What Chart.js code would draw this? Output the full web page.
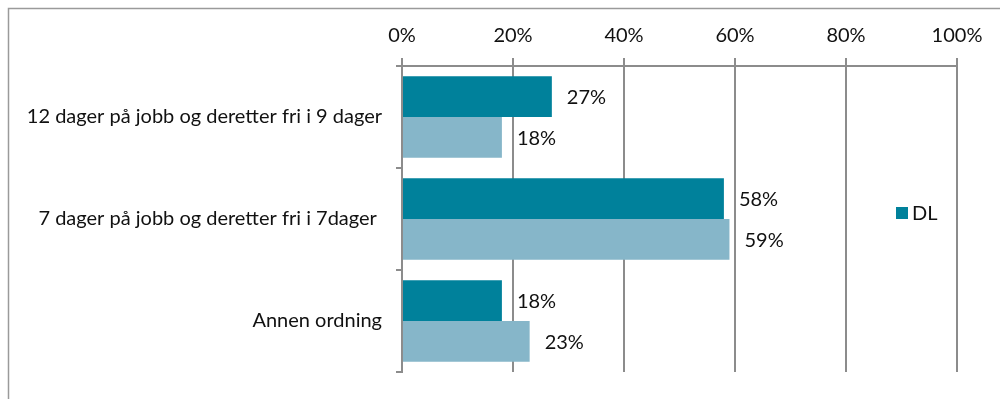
<!DOCTYPE html>
<html>
<head>
<meta charset="utf-8">
<script src="https://cdn.jsdelivr.net/npm/chart.js@4.4.1/dist/chart.umd.min.js"></script>
<style>
  html, body { margin: 0; padding: 0; background: #fff; }
  #wrap { width: 1000px; height: 399px; position: relative; }
</style>
</head>
<body>
<div id="wrap"><canvas id="chart"></canvas></div>
<script>
const categories = [
  '12 dager på jobb og deretter fri i 9 dager',
  '7 dager på jobb og deretter fri i 7dager ',
  'Annen ordning'
];
const dlValues = [27, 58, 18];
const otherValues = [18, 59, 23];
const xTicks = [0, 20, 40, 60, 80, 100];

const FONT = 'Lato';
const FONT_SIZE = 20;
const gridColor = '#8c8c8c';

// outer frame of the chart box
const framePlugin = {
  id: 'frame',
  beforeDraw(chart) {
    const ctx = chart.ctx;
    ctx.save();
    ctx.strokeStyle = '#9a9a9a';
    ctx.lineWidth = 1.5;
    ctx.strokeRect(8.5, 8.5, 1200, 600);
    ctx.restore();
  }
};

// percent labels to the right of each bar
const valueLabels = {
  id: 'valueLabels',
  afterDatasetsDraw(chart) {
    const ctx = chart.ctx;
    ctx.save();
    ctx.font = FONT_SIZE + 'px ' + FONT;
    ctx.fillStyle = '#111';
    ctx.textAlign = 'left';
    ctx.textBaseline = 'middle';
    chart.data.datasets.forEach((ds, i) => {
      chart.getDatasetMeta(i).data.forEach((bar, j) => {
        ctx.fillText(ds.data[j] + '%', bar.x + 15, bar.y + 1);
      });
    });
    ctx.restore();
  }
};

// legend sits inside the plot area on the right
const legendBox = {
  id: 'legendBox',
  afterDraw(chart) {
    const ctx = chart.ctx;
    const ds = chart.data.datasets[0];
    ctx.save();
    ctx.fillStyle = ds.backgroundColor;
    ctx.fillRect(896, 207, 12, 12);
    ctx.font = FONT_SIZE + 'px ' + FONT;
    ctx.fillStyle = '#111';
    ctx.textBaseline = 'middle';
    ctx.fillText(ds.label, 912, 214);
    ctx.restore();
  }
};

new Chart(document.getElementById('chart'), {
  type: 'bar',
  data: {
    labels: categories,
    datasets: [
      { label: 'DL', data: dlValues, backgroundColor: '#00819b',
        categoryPercentage: 0.8, barPercentage: 1.0 },
      { label: '', data: otherValues, backgroundColor: '#86b6c9',
        categoryPercentage: 0.8, barPercentage: 1.0 }
    ]
  },
  options: {
    indexAxis: 'y',
    responsive: true,
    maintainAspectRatio: false,
    animation: false,
    layout: { padding: { top: 14, right: 43, bottom: 27, left: 0 } },
    plugins: {
      legend: { display: false },
      tooltip: { enabled: false }
    },
    scales: {
      x: {
        position: 'top',
        min: 0,
        max: 100,
        afterBuildTicks(scale) { scale.ticks = xTicks.map(v => ({ value: v })); },
        ticks: {
          callback: v => v + '%',
          font: { family: FONT, size: FONT_SIZE },
          color: '#111',
          padding: 10,
          maxRotation: 0
        },
        grid: { color: gridColor, lineWidth: 2, tickLength: 8 },
        border: { color: gridColor, width: 2 }
      },
      y: {
        afterFit(scale) { scale.width = 402; },
        ticks: {
          font: { family: FONT, size: FONT_SIZE },
          color: '#111',
          padding: 14
        },
        grid: { drawOnChartArea: false, offset: true, color: gridColor, lineWidth: 2, tickLength: 6 },
        border: { color: gridColor, width: 2 }
      }
    }
  },
  plugins: [framePlugin, valueLabels, legendBox]
});
</script>
</body>
</html>
